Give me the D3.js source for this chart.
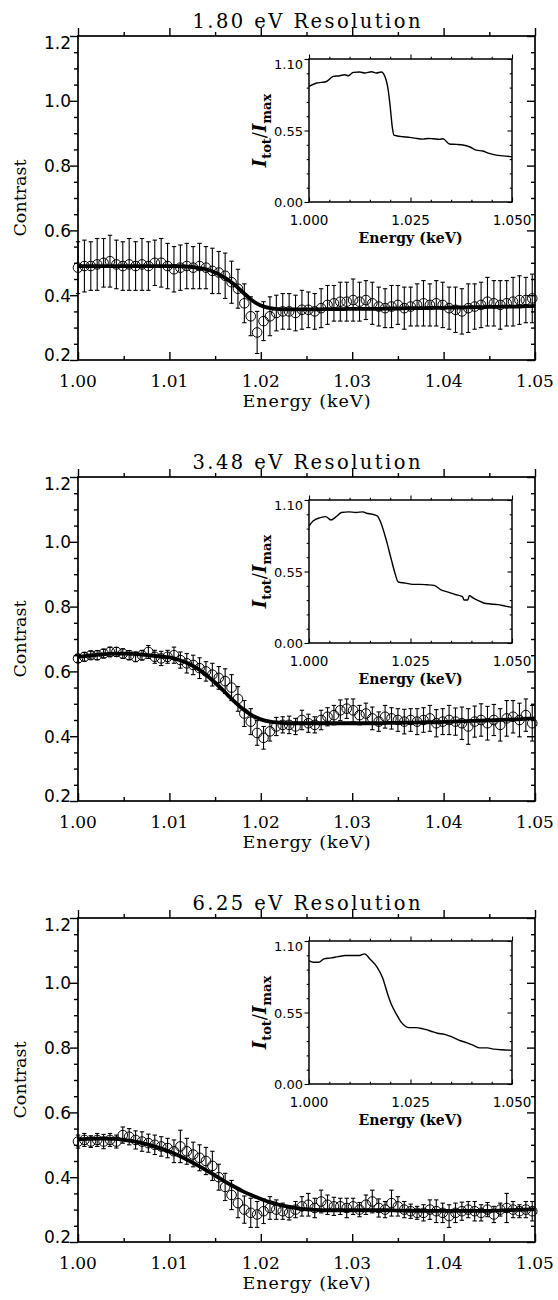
<!DOCTYPE html>
<html><head><meta charset="utf-8">
<script src="https://cdn.jsdelivr.net/npm/d3@7"></script>
<style>body{margin:0;background:#fff}svg{display:block}</style>
</head><body>
<svg id="c" width="558" height="1300"></svg>
<script>
// ---------------- DATA ----------------
const panelTitles = ["1.80 eV Resolution", "3.48 eV Resolution", "6.25 eV Resolution"];
const xTicks = [1.00, 1.01, 1.02, 1.03, 1.04, 1.05];
const yTicks = [0.2, 0.4, 0.6, 0.8, 1.0, 1.2];
const insetXTicks = [1.000, 1.025, 1.050];
const insetYTicks = [0.00, 0.55, 1.10];

const energy = [1.0000,1.0007,1.0014,1.0021,1.0028,1.0035,1.0042,1.0049,1.0056,1.0063,1.0070,1.0077,1.0084,1.0091,1.0098,1.0105,1.0112,1.0119,1.0126,1.0133,1.0140,1.0147,1.0154,1.0161,1.0168,1.0175,1.0182,1.0189,1.0196,1.0203,1.0210,1.0217,1.0224,1.0231,1.0238,1.0245,1.0252,1.0259,1.0266,1.0273,1.0280,1.0287,1.0294,1.0301,1.0308,1.0315,1.0322,1.0329,1.0336,1.0343,1.0350,1.0357,1.0364,1.0371,1.0378,1.0385,1.0392,1.0399,1.0406,1.0413,1.0420,1.0427,1.0434,1.0441,1.0448,1.0455,1.0462,1.0469,1.0476,1.0483,1.0490,1.0497];

const contrast180 = [0.485,0.49,0.49,0.495,0.50,0.505,0.495,0.49,0.495,0.49,0.495,0.49,0.50,0.50,0.49,0.48,0.485,0.49,0.485,0.49,0.485,0.475,0.47,0.46,0.44,0.42,0.375,0.335,0.285,0.32,0.335,0.345,0.35,0.35,0.345,0.355,0.355,0.35,0.36,0.37,0.375,0.38,0.38,0.385,0.38,0.385,0.375,0.365,0.36,0.365,0.37,0.36,0.365,0.37,0.375,0.37,0.375,0.37,0.36,0.355,0.35,0.36,0.365,0.37,0.38,0.375,0.37,0.375,0.38,0.385,0.385,0.39];
const err180 = [0.08,0.08,0.075,0.08,0.075,0.08,0.075,0.075,0.08,0.075,0.08,0.075,0.07,0.075,0.07,0.07,0.07,0.07,0.065,0.07,0.065,0.07,0.065,0.07,0.065,0.06,0.06,0.06,0.065,0.06,0.06,0.055,0.055,0.055,0.055,0.06,0.055,0.055,0.06,0.06,0.055,0.06,0.06,0.065,0.06,0.06,0.065,0.06,0.06,0.065,0.06,0.065,0.06,0.065,0.07,0.065,0.07,0.07,0.065,0.07,0.07,0.075,0.07,0.07,0.075,0.07,0.075,0.07,0.075,0.075,0.07,0.075];

const contrast348 = [0.64,0.645,0.65,0.65,0.655,0.66,0.66,0.655,0.65,0.645,0.65,0.66,0.645,0.64,0.645,0.65,0.635,0.625,0.62,0.61,0.60,0.59,0.58,0.57,0.55,0.515,0.47,0.445,0.41,0.395,0.415,0.43,0.435,0.435,0.43,0.45,0.44,0.435,0.45,0.46,0.465,0.48,0.485,0.48,0.465,0.47,0.455,0.445,0.46,0.455,0.45,0.445,0.45,0.445,0.45,0.455,0.44,0.445,0.45,0.445,0.44,0.43,0.445,0.45,0.44,0.45,0.435,0.455,0.46,0.45,0.465,0.44];
const err348 = [0.012,0.013,0.012,0.014,0.013,0.015,0.014,0.015,0.014,0.015,0.015,0.02,0.02,0.022,0.02,0.025,0.025,0.03,0.03,0.032,0.03,0.035,0.035,0.038,0.04,0.038,0.04,0.04,0.038,0.035,0.03,0.028,0.025,0.027,0.025,0.03,0.028,0.025,0.03,0.028,0.03,0.032,0.03,0.035,0.03,0.032,0.035,0.03,0.035,0.033,0.035,0.038,0.035,0.04,0.038,0.04,0.042,0.04,0.045,0.042,0.05,0.055,0.048,0.05,0.052,0.048,0.05,0.055,0.05,0.052,0.05,0.055];

const contrast625 = [0.51,0.515,0.51,0.515,0.51,0.515,0.51,0.53,0.525,0.515,0.51,0.505,0.50,0.495,0.49,0.48,0.495,0.48,0.47,0.46,0.45,0.435,0.40,0.37,0.345,0.32,0.30,0.29,0.285,0.295,0.305,0.30,0.295,0.29,0.30,0.31,0.315,0.305,0.325,0.315,0.31,0.31,0.305,0.31,0.30,0.315,0.325,0.305,0.30,0.32,0.31,0.30,0.295,0.29,0.29,0.30,0.295,0.29,0.28,0.29,0.295,0.30,0.295,0.29,0.30,0.285,0.30,0.305,0.30,0.295,0.30,0.295];
const err625 = [0.02,0.02,0.018,0.02,0.022,0.02,0.02,0.025,0.025,0.028,0.03,0.028,0.03,0.03,0.03,0.035,0.05,0.04,0.038,0.04,0.042,0.045,0.04,0.042,0.045,0.045,0.042,0.045,0.04,0.038,0.035,0.03,0.025,0.022,0.025,0.03,0.035,0.03,0.035,0.03,0.028,0.025,0.03,0.025,0.022,0.03,0.035,0.028,0.025,0.04,0.03,0.025,0.022,0.02,0.025,0.03,0.035,0.03,0.035,0.03,0.028,0.025,0.03,0.025,0.022,0.025,0.02,0.045,0.025,0.02,0.025,0.03];

const fitEnergy = [1.000,1.001,1.002,1.003,1.004,1.005,1.006,1.007,1.008,1.009,1.010,1.011,1.012,1.013,1.014,1.015,1.016,1.017,1.018,1.019,1.020,1.021,1.022,1.023,1.024,1.025,1.026,1.027,1.028,1.029,1.030,1.031,1.032,1.033,1.034,1.035,1.036,1.037,1.038,1.039,1.040,1.041,1.042,1.043,1.044,1.045,1.046,1.047,1.048,1.049,1.050];
const fit180 = [0.49,0.49,0.49,0.49,0.49,0.49,0.49,0.49,0.49,0.49,0.49,0.49,0.488,0.485,0.48,0.47,0.455,0.435,0.41,0.385,0.368,0.36,0.357,0.356,0.356,0.356,0.356,0.357,0.357,0.357,0.358,0.358,0.358,0.358,0.359,0.359,0.36,0.36,0.36,0.361,0.361,0.362,0.362,0.363,0.363,0.364,0.364,0.365,0.365,0.366,0.367];
const fit348 = [0.645,0.648,0.651,0.653,0.655,0.655,0.654,0.652,0.649,0.646,0.643,0.636,0.625,0.61,0.59,0.565,0.538,0.51,0.485,0.465,0.452,0.445,0.442,0.44,0.44,0.44,0.44,0.44,0.44,0.44,0.44,0.44,0.44,0.44,0.441,0.441,0.442,0.442,0.443,0.443,0.444,0.445,0.446,0.447,0.448,0.449,0.45,0.451,0.452,0.454,0.455];
const fit625 = [0.517,0.518,0.519,0.519,0.518,0.515,0.511,0.505,0.498,0.489,0.479,0.467,0.453,0.438,0.422,0.405,0.388,0.372,0.357,0.344,0.333,0.323,0.315,0.309,0.304,0.301,0.299,0.298,0.298,0.298,0.298,0.298,0.298,0.298,0.298,0.297,0.297,0.296,0.296,0.296,0.296,0.296,0.296,0.296,0.296,0.296,0.297,0.298,0.299,0.30,0.301];

const insetE180 = [1.0000,1.0019,1.0031,1.0043,1.0060,1.0076,1.0088,1.0097,1.0109,1.0125,1.0137,1.0154,1.0166,1.0178,1.0187,1.0195,1.0200,1.0205,1.0209,1.0215,1.0232,1.0248,1.0264,1.0281,1.0293,1.0305,1.0322,1.0330,1.0346,1.0363,1.0379,1.0395,1.0412,1.0428,1.0444,1.0461,1.0477,1.0500];
const insetI180 = [0.889,0.915,0.920,0.927,0.966,0.971,0.979,0.971,0.997,1.000,0.992,1.002,0.992,1.000,0.966,0.863,0.734,0.580,0.515,0.510,0.502,0.497,0.489,0.484,0.489,0.487,0.482,0.487,0.446,0.443,0.438,0.425,0.399,0.392,0.374,0.361,0.355,0.348];
const insetE348 = [1.0000,1.0010,1.0028,1.0041,1.0054,1.0067,1.0080,1.0098,1.0115,1.0133,1.0142,1.0155,1.0168,1.0177,1.0190,1.0203,1.0212,1.0220,1.0238,1.0255,1.0273,1.0290,1.0308,1.0325,1.0343,1.0360,1.0378,1.0382,1.0391,1.0395,1.0404,1.0417,1.0430,1.0448,1.0465,1.0483,1.0500];
const insetI348 = [0.899,0.938,0.964,0.972,0.946,0.972,1.004,1.009,1.004,1.009,0.998,0.991,0.978,0.925,0.795,0.639,0.534,0.469,0.461,0.451,0.451,0.448,0.443,0.409,0.391,0.373,0.357,0.331,0.331,0.365,0.347,0.326,0.308,0.300,0.295,0.284,0.274];
const insetE625 = [1.0000,1.0010,1.0024,1.0037,1.0054,1.0072,1.0089,1.0107,1.0124,1.0137,1.0150,1.0168,1.0181,1.0194,1.0203,1.0216,1.0229,1.0247,1.0264,1.0281,1.0299,1.0316,1.0334,1.0351,1.0369,1.0386,1.0404,1.0421,1.0439,1.0456,1.0474,1.0500];
const insetI625 = [0.949,0.936,0.936,0.962,0.970,0.980,0.988,0.988,0.988,1.001,0.962,0.897,0.819,0.689,0.611,0.533,0.468,0.434,0.434,0.424,0.408,0.390,0.382,0.364,0.338,0.320,0.299,0.278,0.278,0.268,0.263,0.260];

// ---------------- DRAW ----------------
const panels = [
  {title: panelTitles[0], c: contrast180, e: err180, fit: fit180, ie: insetE180, ii: insetI180},
  {title: panelTitles[1], c: contrast348, e: err348, fit: fit348, ie: insetE348, ii: insetI348},
  {title: panelTitles[2], c: contrast625, e: err625, fit: fit625, ie: insetE625, ii: insetI625}
];
const offsets = [0, 441, 882];
const svg = d3.select("#c");
const SERIF = "'DejaVu Serif', serif";
const SANS = "'DejaVu Sans', sans-serif";

const F = {l: 78, r: 535, t: 36, b: 360};
const IN = {l: 309, r: 512, t: 59, b: 202};

const x = d3.scaleLinear().domain([1.00, 1.05]).range([F.l, F.r]);
const y = d3.scaleLinear().domain([0.2, 1.2]).range([F.b, F.t]);
const ix = d3.scaleLinear().domain([1.000, 1.050]).range([IN.l, IN.r]);
const iy = d3.scaleLinear().domain([0.00, 1.10]).range([IN.b, IN.t]);

function ticks(g, scale, orient, pos, majors, minorStep, majLen, minLen, sw) {
  const d = scale.domain();
  const minors = d3.range(Math.round((d[1]-d[0])/minorStep)+1).map(i => d[0] + i*minorStep)
    .filter(v => !majors.some(m => Math.abs(m - v) < 1e-9));
  const mk = {bottom: d3.axisBottom, top: d3.axisTop, left: d3.axisLeft, right: d3.axisRight}[orient];
  const tr = (orient==="bottom"||orient==="top") ? `translate(0,${pos})` : `translate(${pos},0)`;
  const a1 = g.append("g").attr("transform", tr).call(mk(scale).tickValues(majors).tickSize(-majLen).tickFormat(""));
  const a2 = g.append("g").attr("transform", tr).call(mk(scale).tickValues(minors).tickSize(-minLen).tickFormat(""));
  [a1, a2].forEach(a => { a.select(".domain").remove(); a.selectAll("line").attr("stroke", "#000").attr("stroke-width", sw); });
}

panels.forEach((p, k) => {
  const g = svg.append("g").attr("transform", `translate(0,${offsets[k]})`);

  // title
  g.append("text").attr("x", (F.l+F.r)/2).attr("y", 28).attr("text-anchor", "middle")
    .attr("font-family", SERIF).attr("font-size", 19.5)
    .attr("textLength", 228).attr("lengthAdjust", "spacing").text(p.title);

  // data: error bars + circles
  const pts = energy.map((e, i) => ({e, v: p.c[i], er: p.e[i]}));
  const eb = g.append("g").attr("stroke", "#000").attr("stroke-width", 1.1);
  pts.forEach(d => {
    const xx = x(d.e), y1 = y(d.v + d.er), y2 = y(d.v - d.er);
    eb.append("line").attr("x1", xx).attr("x2", xx).attr("y1", y1).attr("y2", y2);
    eb.append("line").attr("x1", xx-2.2).attr("x2", xx+2.2).attr("y1", y1).attr("y2", y1);
    eb.append("line").attr("x1", xx-2.2).attr("x2", xx+2.2).attr("y1", y2).attr("y2", y2);
  });
  g.append("g").selectAll("circle").data(pts).join("circle")
    .attr("cx", d => x(d.e)).attr("cy", d => y(d.v)).attr("r", 4.8)
    .attr("fill", "none").attr("stroke", "#000").attr("stroke-width", 1);

  // fit line
  const fitPts = fitEnergy.map((e, i) => [e, p.fit[i]]);
  g.append("path").datum(fitPts)
    .attr("d", d3.line().x(d => x(d[0])).y(d => y(d[1])).curve(d3.curveMonotoneX))
    .attr("fill", "none").attr("stroke", "#000").attr("stroke-width", 3.8);

  // frame
  g.append("rect").attr("x", F.l).attr("y", F.t).attr("width", F.r-F.l).attr("height", F.b-F.t)
    .attr("fill", "none").attr("stroke", "#000").attr("stroke-width", 1.7);
  ticks(g, x, "bottom", F.b, xTicks, 0.005, 8, 4, 1.4);
  ticks(g, x, "top", F.t, xTicks, 0.005, -8, -4, 1.4);
  ticks(g, y, "left", F.l, yTicks, 0.05, -8, -4, 1.4);
  ticks(g, y, "right", F.r, yTicks, 0.05, 8, 4, 1.4);

  // tick labels
  g.append("g").selectAll("text").data(xTicks).join("text")
    .attr("x", d => x(d)).attr("y", 387).attr("text-anchor", "middle")
    .attr("font-family", SERIF).attr("font-size", 17).text(d => d.toFixed(2));
  g.append("g").selectAll("text").data(yTicks).join("text")
    .attr("x", 71).attr("y", (d, i) => y(d) + (i === 0 ? 1 : (i === yTicks.length-1 ? 12.5 : 6.5)))
    .attr("text-anchor", "end")
    .attr("font-family", SANS).attr("font-size", 17).text(d => d.toFixed(1));

  // axis titles
  g.append("text").attr("x", (F.l+F.r)/2).attr("y", 407).attr("text-anchor", "middle")
    .attr("font-family", SERIF).attr("font-size", 17.5)
    .attr("textLength", 128).attr("lengthAdjust", "spacing").text("Energy (keV)");
  g.append("text").attr("transform", `translate(26,${(F.t+F.b)/2}) rotate(-90)`).attr("text-anchor", "middle")
    .attr("font-family", SERIF).attr("font-size", 17.5).text("Contrast");

  // ---- inset ----
  g.append("rect").attr("x", IN.l).attr("y", IN.t).attr("width", IN.r-IN.l).attr("height", IN.b-IN.t)
    .attr("fill", "#fff").attr("stroke", "none");
  const inPts = p.ie.map((e, i) => [e, p.ii[i]]);
  g.append("path").datum(inPts)
    .attr("d", d3.line().x(d => ix(d[0])).y(d => iy(d[1])).curve(d3.curveMonotoneX))
    .attr("fill", "none").attr("stroke", "#000").attr("stroke-width", 1.4);
  g.append("rect").attr("x", IN.l).attr("y", IN.t).attr("width", IN.r-IN.l).attr("height", IN.b-IN.t)
    .attr("fill", "none").attr("stroke", "#000").attr("stroke-width", 1.5);
  ticks(g, ix, "bottom", IN.b, insetXTicks, 0.005, 4.5, 2.3, 1.1);
  ticks(g, ix, "top", IN.t, insetXTicks, 0.005, -4.5, -2.3, 1.1);
  ticks(g, iy, "left", IN.l, insetYTicks, 0.11, -4.5, -2.3, 1.1);
  ticks(g, iy, "right", IN.r, insetYTicks, 0.11, 4.5, 2.3, 1.1);

  g.append("g").selectAll("text").data(insetXTicks).join("text")
    .attr("x", d => ix(d)).attr("y", 225).attr("text-anchor", "middle")
    .attr("font-family", SANS).attr("font-size", 13.5).text(d => d.toFixed(3));
  g.append("g").selectAll("text").data(insetYTicks).join("text")
    .attr("x", 303).attr("y", (d, i) => iy(d) + (i === insetYTicks.length-1 ? 10 : 5))
    .attr("text-anchor", "end")
    .attr("font-family", SANS).attr("font-size", 13).text(d => d.toFixed(2));
  g.append("text").attr("x", (IN.l+IN.r)/2).attr("y", 243).attr("text-anchor", "middle")
    .attr("font-family", SERIF).attr("font-weight", "bold").attr("font-size", 14)
    .attr("textLength", 104).attr("lengthAdjust", "spacing").text("Energy (keV)");
  const yl = g.append("text").attr("transform", `translate(266,${(IN.t+IN.b)/2}) rotate(-90)`)
    .attr("text-anchor", "middle").attr("font-family", SERIF).attr("font-size", 18);
  yl.append("tspan").attr("font-style", "italic").attr("font-weight", "bold").text("I");
  yl.append("tspan").attr("font-size", 13).attr("font-weight", "bold").attr("dy", 5).text("tot");
  yl.append("tspan").attr("dy", -5).text("/");
  yl.append("tspan").attr("font-style", "italic").attr("font-weight", "bold").text("I");
  yl.append("tspan").attr("font-size", 13).attr("font-weight", "bold").attr("dy", 5).text("max");
});
</script>
</body></html>
